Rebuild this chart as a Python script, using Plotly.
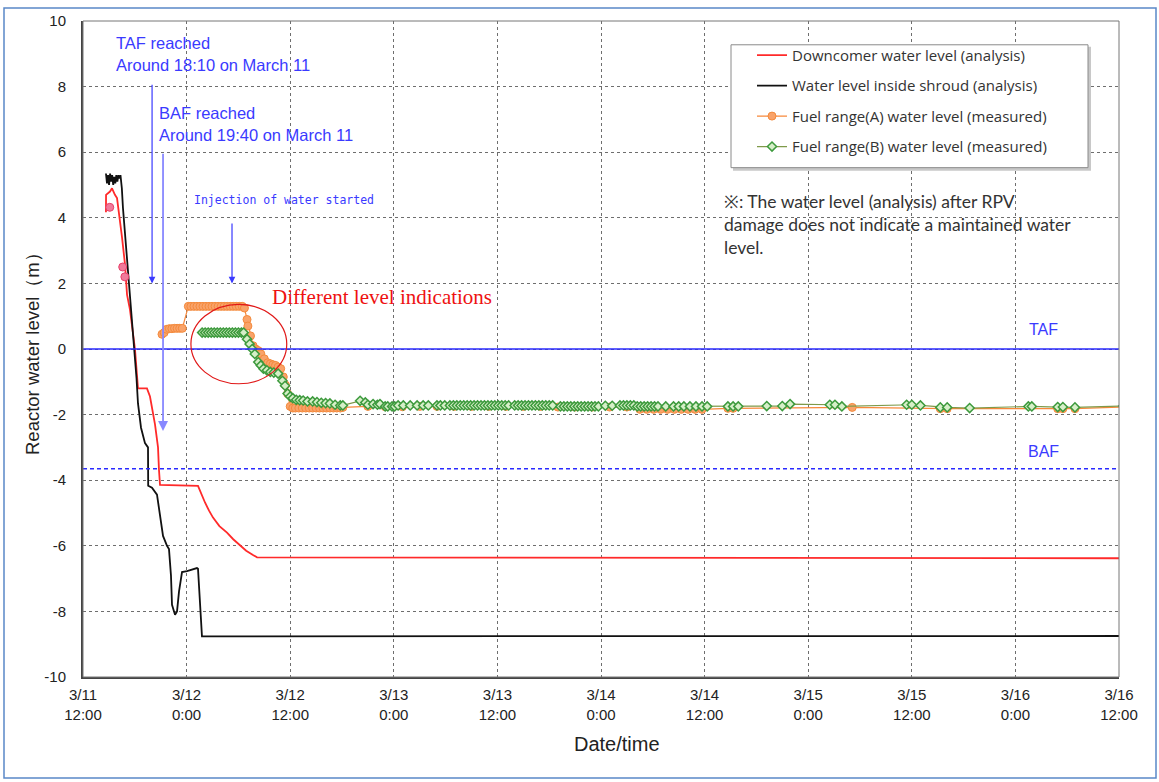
import pandas as pd
import plotly.graph_objects as go

# ---------------- data (hours elapsed since 2011-03-11 12:00) ----------------
T0 = pd.Timestamp("2011-03-11 12:00")

downcomer_hours = [2.66, 2.67, 3.13, 3.36, 3.7, 3.94, 4.52, 4.87, 5.1, 5.44, 6.02, 6.25, 6.37,
                   7.41, 7.76, 8.34, 8.69, 8.8, 8.92, 13.32, 13.7, 14.13, 14.6, 15.06, 15.8,
                   16.68, 17.4, 18.19, 18.9, 19.69, 20.16, 120.0]
downcomer_level = [4.17, 4.7, 4.8, 4.9, 4.7, 4.6, 3.4, 2.57, 1.66, 1.2, 0.0, -0.97, -1.2,
                   -1.2, -1.45, -2.3, -3.0, -3.68, -4.14, -4.17, -4.42, -4.68, -4.93, -5.14, -5.4,
                   -5.6, -5.8, -5.98, -6.15, -6.28, -6.35, -6.38]

shroud_hours = [2.66, 2.78, 2.9, 3.02, 3.14, 3.26, 3.38, 3.5, 3.62, 3.74, 3.86, 3.98, 4.1,
                4.22, 4.34, 4.5, 4.63, 5.2, 5.6, 6.0, 6.2, 6.37, 6.72, 7.18, 7.53, 7.55,
                7.99, 8.57, 8.92, 9.27, 9.73, 9.96, 10.19, 10.31, 10.66, 10.89, 11.12,
                11.47, 12.05, 13.2, 13.32, 13.78, 120.0]
shroud_level = [5.35, 5.05, 5.3, 5.0, 5.35, 5.1, 5.3, 5.0, 5.25, 5.05, 5.3, 5.1, 5.3,
                5.2, 5.3, 4.9, 4.3, 2.5, 1.2, 0.0, -0.9, -1.66, -2.4, -2.87, -3.0, -4.17,
                -4.23, -4.44, -5.0, -5.7, -6.0, -6.1, -6.9, -7.8, -8.1, -8.0, -7.4,
                -6.8, -6.77, -6.68, -6.7, -8.76, -8.75]

fuel_a_early_hours = [3.1, 4.6, 4.85]
fuel_a_early_level = [4.32, 2.5, 2.2]

fuel_a_hours = [9.15, 9.4, 9.7, 10.0, 10.3, 10.6, 10.9, 11.2, 11.5,
                12.2, 12.5, 12.85, 13.2, 13.55, 13.9, 14.25, 14.6, 14.95, 15.3, 15.65,
                16.0, 16.35, 16.7, 17.05, 17.4, 17.75, 18.1, 18.45,
                18.7, 19.0, 19.1, 19.4, 19.7, 20.0, 20.3, 20.6, 21.0, 21.4, 21.7, 22.0,
                22.3, 22.6, 22.9, 23.2, 23.45, 23.7, 24.0, 24.3,
                24.6, 25.0, 25.4, 25.8, 26.2, 26.6, 27.0, 27.4, 27.8, 28.2, 28.6, 29.0,
                29.4, 29.8, 30.1,
                33.0, 35.0, 37.0, 39.0, 41.0, 43.0, 45.0, 47.0, 49.0, 51.0, 53.0, 55.0,
                57.0, 59.0, 61.0, 63.0,
                64.5, 65.3, 66.1, 66.9, 67.7, 68.5, 69.3, 70.1, 70.9, 71.7,
                74.7, 75.3, 89.1, 99.3, 100.1, 112.9, 113.5, 114.9, 120.5]
fuel_a_level = [0.45, 0.5, 0.6, 0.62, 0.62, 0.63, 0.63, 0.63, 0.63,
                1.3, 1.3, 1.3, 1.3, 1.3, 1.3, 1.3, 1.3, 1.3, 1.3, 1.3,
                1.3, 1.3, 1.3, 1.3, 1.3, 1.3, 1.3, 1.3,
                1.25, 0.9, 0.7, 0.4, 0.1, 0.0, -0.05, -0.15, -0.3, -0.42, -0.45, -0.48,
                -0.5, -0.55, -0.6, -0.85, -1.1, -1.36, -1.75, -1.8,
                -1.8, -1.8, -1.8, -1.8, -1.8, -1.8, -1.8, -1.8, -1.8, -1.8, -1.8, -1.8,
                -1.8, -1.8, -1.78,
                -1.75, -1.76, -1.76, -1.75, -1.75, -1.75, -1.75, -1.75, -1.75, -1.75, -1.75, -1.77,
                -1.77, -1.77, -1.77, -1.77,
                -1.84, -1.84, -1.84, -1.84, -1.84, -1.84, -1.84, -1.84, -1.84, -1.84,
                -1.81, -1.81, -1.78, -1.82, -1.82, -1.82, -1.82, -1.82, -1.77]

fuel_b_hours = [13.8, 14.15, 14.5, 14.85, 15.2, 15.55, 15.9, 16.25, 16.6, 16.95, 17.3,
                17.65, 18.0, 18.35, 18.6, 19.0, 19.3, 19.6, 19.9, 20.3, 20.6, 20.9, 21.3,
                21.7, 22.1, 22.6, 23.1, 23.4, 23.7, 24.0, 24.3, 24.7, 25.1, 25.5, 26.0,
                26.6, 27.1, 27.6, 28.1, 28.6, 29.2, 29.8, 30.1,
                32.1, 32.7, 33.0, 33.6, 34.1, 34.4, 35.0, 35.3, 35.8, 36.1, 36.5, 37.1,
                37.9, 38.7, 39.4, 40.0, 41.0, 41.4, 41.9, 42.5, 42.9, 43.3, 43.7, 44.1,
                44.5, 44.9, 45.3, 45.7, 46.1, 46.5, 46.9, 47.3, 47.7, 48.1, 48.5, 48.9,
                49.3,
                50.0, 50.4, 50.8, 51.2, 51.6, 52.0, 52.4, 52.8, 53.2, 53.6, 54.0, 54.4,
                55.3, 55.7, 56.1, 56.5, 56.9, 57.3, 57.7, 58.1, 58.5, 58.9, 59.3, 59.7,
                60.5, 61.3, 62.2, 62.6, 63.0, 63.4, 63.8, 64.2, 64.6, 65.0, 65.4, 65.8,
                66.2, 66.6, 67.5, 68.4, 69.0, 69.6, 70.3, 71.0, 71.7, 72.3,
                74.7, 75.3, 75.9, 79.2, 81.0, 81.9, 86.5, 87.1, 87.9, 95.4, 96.0, 97.0,
                99.3, 100.1, 102.7, 109.5, 109.9, 112.9, 113.5, 114.9, 120.5]
fuel_b_level = [0.5, 0.5, 0.5, 0.5, 0.5, 0.5, 0.5, 0.5, 0.5, 0.5, 0.5,
                0.5, 0.5, 0.5, 0.5, 0.3, 0.15, 0.0, -0.15, -0.4, -0.5, -0.6, -0.65,
                -0.7, -0.72, -0.75, -0.97, -1.12, -1.36, -1.45, -1.5, -1.55, -1.56, -1.57, -1.6,
                -1.6, -1.62, -1.64, -1.65, -1.66, -1.7, -1.72, -1.72,
                -1.58, -1.63, -1.7, -1.68, -1.7, -1.68, -1.75, -1.75, -1.75, -1.75, -1.72, -1.72,
                -1.72, -1.72, -1.72, -1.72, -1.72, -1.72, -1.72, -1.72, -1.72, -1.72, -1.72, -1.72,
                -1.72, -1.72, -1.72, -1.72, -1.72, -1.72, -1.72, -1.72, -1.72, -1.72, -1.72, -1.72,
                -1.72,
                -1.72, -1.72, -1.72, -1.72, -1.72, -1.72, -1.72, -1.72, -1.72, -1.72, -1.72, -1.72,
                -1.75, -1.75, -1.75, -1.75, -1.75, -1.75, -1.75, -1.75, -1.75, -1.75, -1.75, -1.75,
                -1.73, -1.73, -1.72, -1.72, -1.72, -1.72, -1.72, -1.75, -1.75, -1.75, -1.75, -1.75,
                -1.75, -1.75, -1.75, -1.75, -1.75, -1.75, -1.75, -1.75, -1.75, -1.75,
                -1.75, -1.75, -1.75, -1.74, -1.74, -1.68, -1.7, -1.7, -1.75, -1.7, -1.7, -1.72,
                -1.78, -1.78, -1.8, -1.75, -1.75, -1.77, -1.77, -1.78, -1.74]

TAF_LEVEL = 0.0
BAF_LEVEL = -3.65

tick_hours = [0, 12, 24, 36, 48, 60, 72, 84, 96, 108, 120]
tick_labels = ["3/11<br>12:00", "3/12<br>0:00", "3/12<br>12:00", "3/13<br>0:00",
               "3/13<br>12:00", "3/14<br>0:00", "3/14<br>12:00", "3/15<br>0:00",
               "3/15<br>12:00", "3/16<br>0:00", "3/16<br>12:00"]
y_ticks = [10, 8, 6, 4, 2, 0, -2, -4, -6, -8, -10]


def to_time(hours):
    return [T0 + pd.Timedelta(hours=h) for h in hours]


# pixel -> paper helpers (plot area 83..1119 x 15..677)
L, R, T, B = 83, 1119, 15, 677


def px(x):
    return (x - L) / (R - L)


def py(y):
    return (B - y) / (B - T)


fig = go.Figure()

fig.add_trace(go.Scatter(x=to_time(downcomer_hours), y=downcomer_level, mode="lines",
                         name="Downcomer water level (analysis)", legendgroup="a",
                         line=dict(color="#ff2a2a", width=1.8)))
fig.add_trace(go.Scatter(x=to_time(shroud_hours), y=shroud_level, mode="lines",
                         name="Water level inside shroud (analysis)", legendgroup="b",
                         line=dict(color="#111111", width=1.8)))
fig.add_trace(go.Scatter(x=to_time(fuel_a_hours), y=fuel_a_level, mode="lines+markers",
                         name="Fuel range(A) water level (measured)", legendgroup="c",
                         line=dict(color="#f7883a", width=1.2),
                         marker=dict(symbol="circle", size=8, color="#f9a36a",
                                     line=dict(color="#f48a3c", width=1))))
fig.add_trace(go.Scatter(x=to_time(fuel_a_early_hours), y=fuel_a_early_level, mode="markers",
                         showlegend=False, legendgroup="c",
                         marker=dict(symbol="circle", size=8, color="#f07a9a",
                                     line=dict(color="#e8406a", width=1))))
fig.add_trace(go.Scatter(x=to_time(fuel_b_hours), y=fuel_b_level, mode="lines+markers",
                         name="Fuel range(B) water level (measured)", legendgroup="d",
                         line=dict(color="#7f9a4a", width=1.2),
                         marker=dict(symbol="diamond", size=7, color="#d6efc8",
                                     line=dict(color="#3d9a3d", width=1.5))))

blue = "#3a3aff"
ann = []


def text(x, y, s, size=16.5, color=blue, family="Liberation Sans", xanchor="left"):
    ann.append(dict(x=px(x), y=py(y), xref="paper", yref="paper", text=s, showarrow=False,
                    xanchor=xanchor, yanchor="middle",
                    font=dict(size=size, color=color, family=family)))


text(114, 37, "TAF reached")
text(114, 59, "Around 18:10 on March 11")
text(157, 108, "BAF reached")
text(157, 130, "Around 19:40 on March 11")
text(192, 196, "Injection of water started", size=11.5, family="DejaVu Sans Mono")
text(270, 294, "Different level indications", size=21, color="#ee1111",
     family="Liberation Serif")
text(1043, 326, "TAF", size=16, xanchor="center")
text(1043, 449, "BAF", size=16, xanchor="center")
text(722, 197, "※: The water level (analysis) after RPV", size=17.5, color="#333333",
     family="Lato")
text(722, 220, "damage does not indicate a maintained water", size=17.5, color="#333333",
     family="Lato")
text(722, 244, "level.", size=17.5, color="#333333", family="Lato")
text(617, 745, "Date/time", size=20, color="#222222", xanchor="center")
ann.append(dict(x=px(32), y=0.5, xref="paper", yref="paper", text="Reactor water level（m）",
                textangle=-90, showarrow=False, xanchor="center", yanchor="middle",
                font=dict(size=18.5, color="#222222", family="Liberation Sans")))


def arrow(h, y_tail, y_head, color, width):
    t = T0 + pd.Timedelta(hours=h)
    ann.append(dict(x=t, y=y_head, ax=t, ay=y_tail, xref="x", yref="y", axref="x", ayref="y",
                    text="", showarrow=True, arrowhead=2, arrowsize=1.1, arrowwidth=width,
                    arrowcolor=color, standoff=0))


arrow(8.0, 8.1, 2.0, "#3a3aff", 1.2)
arrow(9.27, 6.0, -2.5, "#8888ff", 1.8)
arrow(17.26, 3.87, 2.0, "#3a3aff", 1.2)

shapes = [
    # reference lines
    dict(type="line", xref="paper", x0=0, x1=1, yref="y", y0=TAF_LEVEL, y1=TAF_LEVEL,
         line=dict(color="#2a2aff", width=1.6)),
    dict(type="line", xref="paper", x0=0, x1=1, yref="y", y0=BAF_LEVEL, y1=BAF_LEVEL,
         line=dict(color="#2a2aff", width=1.6, dash="4px,3px")),
    # ellipse
    dict(type="circle", xref="x", yref="y",
         x0=T0 + pd.Timedelta(hours=12.5), x1=T0 + pd.Timedelta(hours=23.6),
         y0=-1.06, y1=1.36, line=dict(color="#e01818", width=1.2)),
    # plot frame top/right
    dict(type="rect", xref="paper", yref="paper", x0=0, x1=1, y0=0, y1=1,
         line=dict(color="#777777", width=1)),
    # legend box shadow + box
    dict(type="rect", xref="paper", yref="paper", x0=px(733), x1=px(1091), y0=py(166), y1=py(41),
         line=dict(width=0), fillcolor="#c8c8c8", layer="above"),
    dict(type="rect", xref="paper", yref="paper", x0=px(731), x1=px(1088), y0=py(163), y1=py(39),
         line=dict(color="#8a8a8a", width=1), fillcolor="white", layer="above"),
    # outer image frame
    dict(type="rect", xref="paper", yref="paper", x0=px(4), x1=px(1156), y0=py(779), y1=py(2),
         line=dict(color="#5a88c8", width=1.5)),
]

fig.update_layout(
    width=1159, height=782,
    margin=dict(l=L, r=1159 - R, t=T, b=782 - B),
    paper_bgcolor="white", plot_bgcolor="white",
    showlegend=True,
    legend=dict(x=px(752), y=py(33), xanchor="left", yanchor="top",
                bgcolor="rgba(0,0,0,0)", borderwidth=0, traceorder="grouped",
                tracegroupgap=8, itemwidth=30,
                font=dict(size=15, color="#333333", family="Open Sans")),
    annotations=ann,
    shapes=shapes,
    hovermode=False,
)

fig.update_xaxes(
    type="date",
    range=[T0, T0 + pd.Timedelta(hours=120)],
    tickvals=to_time(tick_hours), ticktext=tick_labels,
    tickfont=dict(size=15, color="#222222", family="Liberation Sans"),
    showgrid=True, gridcolor="#6e6e6e", griddash="dot", gridwidth=1,
    showline=True, linecolor="#444444", linewidth=2,
    zeroline=False, ticks="outside", ticklen=3, tickcolor="rgba(0,0,0,0)",
)
fig.update_yaxes(
    range=[-10, 10], tickvals=y_ticks, ticktext=[str(v) for v in y_ticks],
    tickfont=dict(size=15, color="#222222", family="Liberation Sans"),
    showgrid=True, gridcolor="#6e6e6e", griddash="dot", gridwidth=1,
    showline=True, linecolor="#444444", linewidth=2,
    zeroline=False, ticks="outside", ticklen=12, tickcolor="rgba(0,0,0,0)",
)

fig.write_html("out.html")
